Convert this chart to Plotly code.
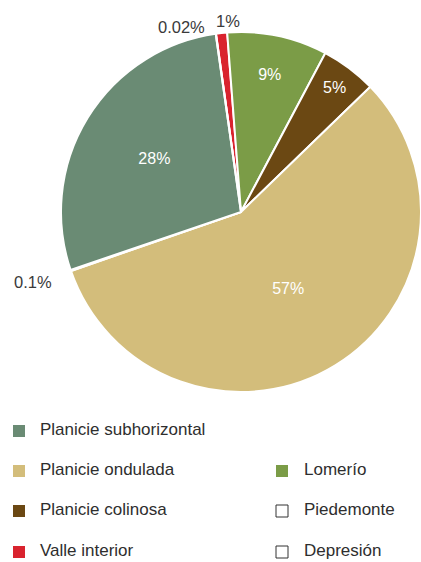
import plotly.graph_objects as go

W, H = 421, 562

# Data (pie order, clockwise from top)
pie_labels = ["Valle interior", "Lomerío", "Planicie colinosa", "Planicie ondulada",
              "Piedemonte", "Planicie subhorizontal", "Depresión"]
pie_values = [1, 9, 5, 57, 0.1, 28, 0.02]
pie_colors = ["#d9232e", "#7b9c47", "#6b4813", "#d3bd7b", "#ffffff", "#6a8b74", "#ffffff"]
inside_shown = [False, True, True, True, False, True, False]

# Legend layout (label order)
legend_left = ["Planicie subhorizontal", "Planicie ondulada", "Planicie colinosa", "Valle interior"]
legend_right = [None, "Lomerío", "Piedemonte", "Depresión"]

FONT = "Liberation Sans, Arial, sans-serif"

def px(x):
    return x / W

def py(y):
    return 1 - y / H

color_of = dict(zip(pie_labels, pie_colors))
value_of = dict(zip(pie_labels, pie_values))

fig = go.Figure()
fig.add_trace(go.Pie(
    labels=pie_labels,
    values=pie_values,
    sort=False,
    direction="clockwise",
    rotation=-8,
    marker=dict(colors=pie_colors, line=dict(color="white", width=2)),
    texttemplate="%{value}%",
    textposition=["inside" if s else "none" for s in inside_shown],
    insidetextorientation="horizontal",
    insidetextfont=dict(color="white", size=16, family=FONT),
    showlegend=False,
    domain=dict(x=[61 / W, 1.0], y=[py(393), py(31)]),
    hoverinfo="label+value",
))

annotations = []
# outside small-slice labels
outside = [("Depresión", 181, 27), ("Valle interior", 228, 21), ("Piedemonte", 33, 282)]
for lab, x, y in outside:
    annotations.append(dict(
        x=px(x), y=py(y), xref="paper", yref="paper",
        text=f"{value_of[lab]}%", showarrow=False,
        xanchor="center", yanchor="middle",
        font=dict(size=16.5, color="#3a3a3a", family=FONT)))

shapes = []
row_y = [428, 468, 508, 549]
cols = [(legend_left, 13, 38), (legend_right, 276, 302)]
for items, sqx, tx in cols:
    for i, lab in enumerate(items):
        if lab is None:
            continue
        cy = row_y[i]
        c = color_of[lab]
        filled = c.lower() != "#ffffff"
        shapes.append(dict(
            type="rect", xref="paper", yref="paper",
            x0=px(sqx), x1=px(sqx + 12), y0=py(cy + 9), y1=py(cy - 3),
            fillcolor=c if filled else "white",
            line=dict(color=c if filled else "#333333", width=0 if filled else 1)))
        annotations.append(dict(
            x=px(tx), y=py(cy + 1), xref="paper", yref="paper",
            text=lab, showarrow=False, xanchor="left", yanchor="middle",
            font=dict(size=17, color="#2e2e2e", family=FONT)))

fig.update_layout(
    width=W, height=H,
    margin=dict(l=0, r=0, t=0, b=0),
    paper_bgcolor="white", plot_bgcolor="white",
    annotations=annotations, shapes=shapes,
)

fig.write_html("out.html")
